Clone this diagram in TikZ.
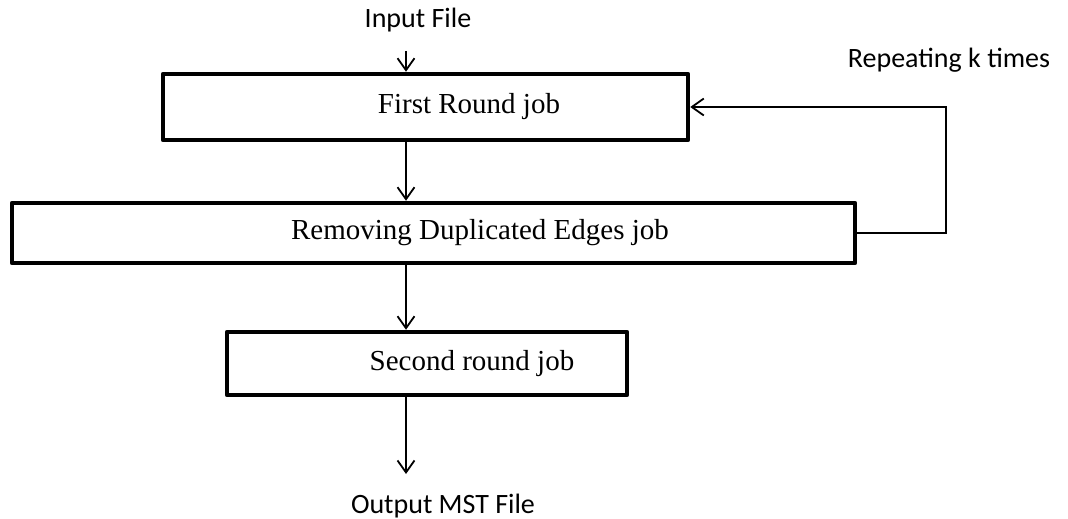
\documentclass[tikz,border=0pt]{standalone}
\usepackage{fontspec}
\setmainfont{Liberation Serif}
\newfontfamily\calfont{Carlito}
\usetikzlibrary{arrows.meta}
\begin{document}
\begin{tikzpicture}[x=1pt,y=-1pt,
  box/.style={draw=black, line width=4.5pt, line join=round, inner sep=0pt,
    font=\fontsize{29}{34}\selectfont},
  lbl/.style={font=\calfont\fontsize{28}{33}\selectfont, inner sep=0pt, anchor=base},
  arr/.style={line width=1.8pt, -{Straight Barb[length=12pt,width=17pt,line width=1.8pt]}},
  link/.style={line width=1.8pt}]
\useasboundingbox (0,0) rectangle (1068,519);
\coordinate (ax) at (406,0);
\node[lbl] (in) at (418,28) {Input File};
\node[lbl] (rep) at (949,67) {Repeating k times};
\node[lbl] (out) at (443,513) {Output MST File};
\node[box, minimum width=525pt, minimum height=66pt] (r1) at (425.5,107) {\hspace*{87pt}First Round job};
\node[box, minimum width=843pt, minimum height=60pt] (r2) at (433.5,233) {\hspace*{93pt}Removing Duplicated Edges job};
\node[box, minimum width=400pt, minimum height=63pt] (r3) at (427,363.5) {\hspace*{90pt}Second round job};
\coordinate (inA) at (406,51);
\coordinate (outA) at (406,474);
\coordinate (fbx) at (946,0);
\draw[arr] (inA) -- (r1.north -| ax);
\draw[arr] (r1.south -| ax) -- (r2.north -| ax);
\draw[arr] (r2.south -| ax) -- (r3.north -| ax);
\draw[arr] (r3.south -| ax) -- (outA);
\draw[arr] (r2.east) -- (r2.east -| fbx) -- (r1.east -| fbx) -- (r1.east);
\end{tikzpicture}
\end{document}
